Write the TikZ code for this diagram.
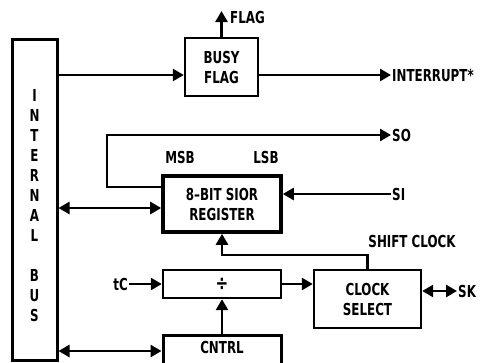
\documentclass[tikz,border=0pt]{standalone}
\usepackage{fontspec}
\setmainfont{DejaVu Sans Condensed}[FakeStretch=0.8]
\usetikzlibrary{arrows.meta}

\begin{document}
\begin{tikzpicture}[x=1pt,y=-1pt,font=\bfseries\fontsize{16.5}{20}\selectfont,
  blk/.style={draw,line width=2.4pt,align=center,inner sep=0pt},
  arr/.style={line width=2.6pt,-{Triangle[length=11pt,width=12pt]}},
  dbl/.style={line width=2.6pt,{Triangle[length=11pt,width=12pt]}-{Triangle[length=11pt,width=12pt]}},
  sig/.style={inner sep=1pt}]
\useasboundingbox (0,0) rectangle (494,362);
\clip (0,0) rectangle (494,362);
\node[blk,line width=3pt,minimum width=45pt,minimum height=321pt,
  label={[align=center,yshift=-6pt]center:I\\N\\T\\E\\R\\N\\A\\L\\[20pt]B\\U\\S}](bus) at (34.5,199.5){};
\node[blk,minimum width=73pt,minimum height=58pt](busy) at (221.5,67){BUSY\\FLAG};
\node[blk,line width=3.6pt,minimum width=118pt,minimum height=56pt](reg) at (222,204){8--BIT SIOR\\REGISTER};
\node[blk,minimum width=118pt,minimum height=28pt](div) at (222,284){\fontsize{21}{20}\selectfont÷};
\node[blk,minimum width=107pt,minimum height=58pt](clk) at (367.5,299){CLOCK\\SELECT};
\node[blk,line width=3pt,minimum width=118pt,minimum height=34pt,text depth=10pt](cntrl) at (222,352){CNTRL};
\coordinate (flag) at (221.5,11);
\node[sig,anchor=west] at (229,17){FLAG};
\node[sig,anchor=west](intr) at (391,75){INTERRUPT*};
\node[sig,anchor=west](so) at (391,135){SO};
\node[sig,anchor=west](si) at (391,194){SI};
\node[sig,anchor=east](tc) at (129,284){tC};
\node[sig,anchor=west](sk) at (457,291){SK};
\node[sig] at (180,157){MSB};
\node[sig] at (266,157){LSB};
\node[sig] at (412,241){SHIFT CLOCK};
\draw[arr](busy.north)--(flag);
\draw[arr](bus.east|-intr)--(busy.west|-intr);
\draw[arr](busy.east|-intr)--(intr);
\draw[arr](reg.west|-0,187)-|(107,135)--(so);
\draw[arr](si)--(reg.east|-si);
\draw[dbl](bus.east|-0,208)--(reg.west|-0,208);
\draw[arr](tc)--(div.west);
\draw[arr](div.east)--(clk.west|-div.east);
\draw[arr](clk.north)--(367.5,255)-|(reg.south);
\draw[dbl](clk.east|-sk)--(sk);
\draw[arr](cntrl.north)--(div.south);
\draw[dbl](bus.east|-0,351)--(cntrl.west|-0,351);
\end{tikzpicture}
\end{document}
